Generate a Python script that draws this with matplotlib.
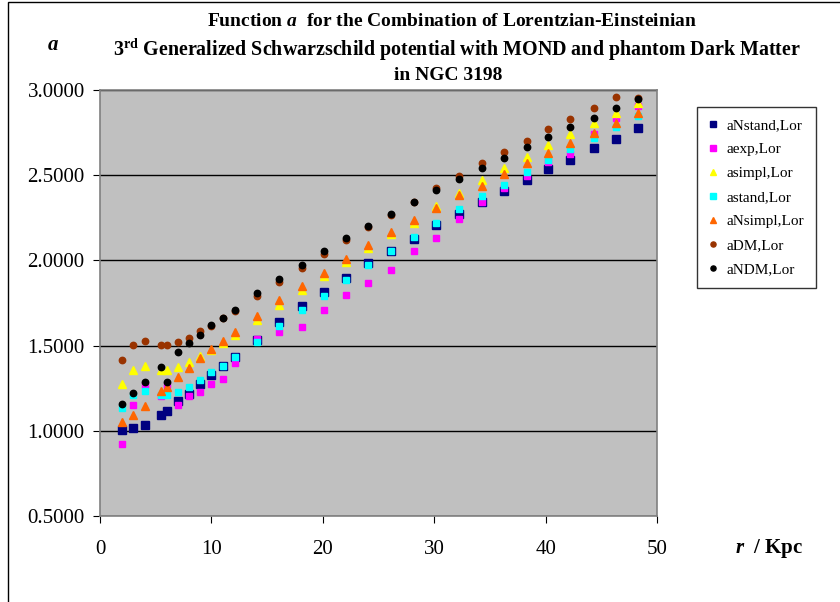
"""
Function a for NGC 3198, Lorentzian-Einsteinian potential with MOND / DM
"""

import matplotlib
matplotlib.use("Agg")
import matplotlib.pyplot as plt
from matplotlib.patches import Rectangle

plt.rcParams['font.family'] = ['Liberation Serif', 'DejaVu Serif']
plt.rcParams['mathtext.fontset'] = 'custom'
plt.rcParams['mathtext.rm'] = 'Liberation Serif:bold'
plt.rcParams['mathtext.it'] = 'Liberation Serif:bold:italic'
plt.rcParams['mathtext.bf'] = 'Liberation Serif:bold'

# radius in Kpc
r = [2, 3, 4, 5.5, 6, 7, 8, 9, 10, 11, 12.1, 14.1, 16.1, 18.1, 20.1, 22.1,
     24.1, 26.1, 28.2, 30.2, 32.2, 34.3, 36.3, 38.3, 40.2, 42.2, 44.3, 46.3, 48.3]

a_nstand = [1.007, 1.019, 1.034, 1.093, 1.118, 1.172, 1.218, 1.276, 1.328, 1.380,
            1.435, 1.530, 1.636, 1.730, 1.816, 1.894, 1.984, 2.056, 2.125, 2.207,
            2.273, 2.345, 2.408, 2.469, 2.535, 2.592, 2.658, 2.711, 2.775]
a_exp = [0.921, 1.150, 1.270, 1.205, 1.270, 1.150, 1.206, 1.226, 1.275, 1.302,
         1.398, 1.539, 1.580, 1.609, 1.709, 1.799, 1.866, 1.945, 2.056, 2.134,
         2.244, 2.345, 2.424, 2.496, 2.580, 2.625, 2.740, 2.838, 2.908]
a_simpl = [1.277, 1.359, 1.382, 1.359, 1.359, 1.375, 1.405, 1.439, 1.472, 1.518,
           1.562, 1.648, 1.738, 1.824, 1.910, 1.991, 2.074, 2.156, 2.222, 2.320,
           2.398, 2.472, 2.541, 2.609, 2.678, 2.744, 2.809, 2.867, 2.922]
a_stand = [1.133, 1.210, 1.236, 1.212, 1.212, 1.230, 1.257, 1.296, 1.343, 1.382,
           1.431, 1.520, 1.613, 1.706, 1.793, 1.884, 1.972, 2.056, 2.140, 2.222,
           2.301, 2.375, 2.443, 2.521, 2.590, 2.653, 2.720, 2.785, 2.848]
a_nsimpl = [1.054, 1.095, 1.148, 1.231, 1.256, 1.313, 1.369, 1.427, 1.480, 1.525,
            1.580, 1.675, 1.769, 1.849, 1.928, 2.010, 2.088, 2.169, 2.238, 2.307,
            2.385, 2.439, 2.508, 2.574, 2.633, 2.688, 2.750, 2.809, 2.863]
a_dm = [1.417, 1.503, 1.525, 1.504, 1.504, 1.519, 1.547, 1.583, 1.615, 1.660,
        1.705, 1.790, 1.871, 1.958, 2.035, 2.117, 2.194, 2.266, 2.340, 2.423,
        2.496, 2.570, 2.635, 2.703, 2.770, 2.832, 2.896, 2.959, 2.955]
a_ndm = [1.156, 1.222, 1.284, 1.375, 1.284, 1.464, 1.513, 1.565, 1.621, 1.664,
         1.710, 1.808, 1.892, 1.974, 2.054, 2.132, 2.203, 2.273, 2.345, 2.414,
         2.478, 2.541, 2.601, 2.664, 2.726, 2.781, 2.838, 2.893, 2.947]

series = [
    ("aNstand,Lor", a_nstand, 's', '#000080', 5.2),
    ("aexp,Lor", a_exp, 's', '#FF00FF', 4.6),
    ("asimpl,Lor", a_simpl, '^', '#FFFF00', 5.4),
    ("astand,Lor", a_stand, 's', '#00FFFF', 4.6),
    ("aNsimpl,Lor", a_nsimpl, '^', '#FF6600', 5.4),
    ("aDM,Lor", a_dm, 'o', '#993300', 4.6),
    ("aNDM,Lor", a_ndm, 'o', '#000000', 4.6),
]

W, H = 840, 602
fig = plt.figure(figsize=(W / 100, H / 100), dpi=100)

# outer chart frame
fig.patches.append(Rectangle((8 / W, -0.1), 1.2, 1.1 - 2 / H,
                             transform=fig.transFigure, fill=False,
                             edgecolor='black', linewidth=1.0))

ax = fig.add_axes([100 / W, 1 - 516 / H, 557 / W, 426 / H])
ax.set_facecolor('#C0C0C0')
for s in ax.spines.values():
    s.set_color('#808080')
    s.set_linewidth(1.2)

for lab, vals, mk, col, ms in series:
    ax.plot(r, vals, linestyle='none', marker=mk, markersize=ms,
            markerfacecolor=col, markeredgecolor=col, label=lab)

ax.set_xlim(0, 50)
ax.set_ylim(0.5, 3.0)
ax.set_xticks([0, 10, 20, 30, 40, 50])
ax.set_yticks([0.5, 1.0, 1.5, 2.0, 2.5, 3.0])
ax.set_yticklabels(["{:.4f}".format(v) for v in [0.5, 1.0, 1.5, 2.0, 2.5, 3.0]])
ax.yaxis.grid(True, color='black', linewidth=1.0)
ax.set_axisbelow(True)
ax.tick_params(axis='both', labelsize=15, length=5, color='black', direction='out')
ax.tick_params(axis='x', pad=12)
ax.tick_params(axis='y', pad=6)

leg = ax.legend(loc='upper left', bbox_to_anchor=(697 / W, 1 - 107 / H),
                bbox_transform=fig.transFigure, fontsize=11, frameon=True,
                fancybox=False, edgecolor='black', handlelength=0.6,
                handletextpad=0.6, labelspacing=0.68, borderpad=0.75,
                borderaxespad=0, markerscale=0.8)
leg.get_frame().set_linewidth(1.0)

# titles
fig.text(452 / W, 1 - 22 / H, r"Function $a$  for the Combination of Lorentzian-Einsteinian",
         ha='center', va='center', fontsize=14, fontweight='bold')
fig.text(457 / W, 1 - 50 / H,
         r"3$^{\rm rd}$ Generalized Schwarzschild potential with MOND and phantom Dark Matter",
         ha='center', va='center', fontsize=14.4, fontweight='bold')
fig.text(448 / W, 1 - 76 / H, "in NGC 3198",
         ha='center', va='center', fontsize=14, fontweight='bold')

fig.text(53 / W, 1 - 46 / H, r"$a$", ha='center', va='center', fontsize=15)
fig.text(735 / W, 1 - 549 / H, r"$r$  / Kpc", ha='left', va='center',
         fontsize=15, fontweight='bold')

fig.savefig("out.png", dpi=100)
